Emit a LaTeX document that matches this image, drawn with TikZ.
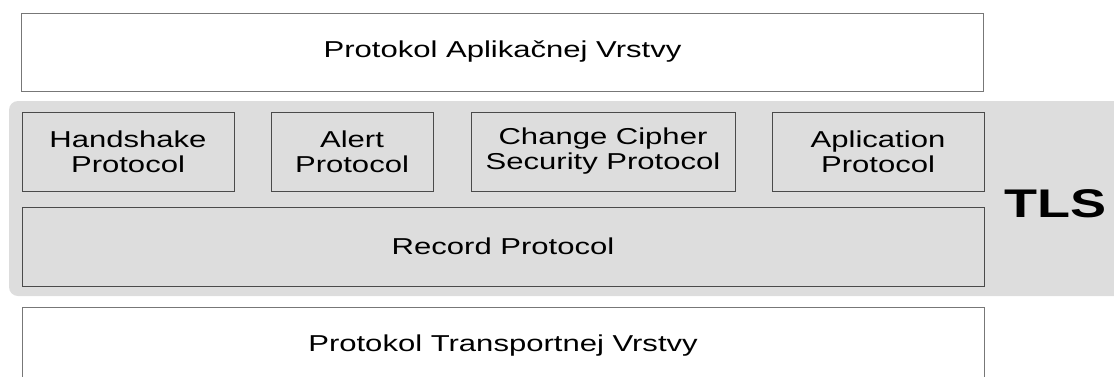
\documentclass[tikz,border=0pt]{standalone}
\usepackage{fontspec}
\setmainfont{Liberation Sans}[FakeStretch=1.35]
\usetikzlibrary{positioning}

\definecolor{tlsgray}{HTML}{DDDDDD}
\definecolor{edgegray}{HTML}{4A4A4A}
\definecolor{outergray}{HTML}{777777}

\tikzset{
  layer/.style={draw=outergray, fill=white, line width=1pt, minimum width=962pt, minimum height=78pt, inner sep=0pt, font=\fontsize{23}{25}\selectfont},
  proto/.style={draw=edgegray, fill=tlsgray, line width=1pt, minimum height=79pt, inner sep=0pt, align=center, font=\fontsize{23}{25}\selectfont}
}

\begin{document}
\begin{tikzpicture}[x=1pt,y=-1pt]
\useasboundingbox (0,0) rectangle (1114,376);

\path
(567,198.5) node[fill=tlsgray, rounded corners=9pt, minimum width=1116pt, minimum height=195pt, inner sep=0pt] (tlsbg) {}
(502.5,52)  node[layer] (app) {Protokol Aplikačnej Vrstvy}

(128,151.5) node[proto, minimum width=212pt] (hs) {Handshake\\Protocol}
(352,151.5) node[proto, minimum width=162pt] (alert) {Alert\\Protocol}
(603,151.5) node[proto, minimum width=264pt] (ccs) {Change Cipher\\Security Protocol}
(878,151.5) node[proto, minimum width=212pt] (aplp) {Aplication\\Protocol}
(503,246.5) node[proto, minimum width=962pt] (rec) {Record Protocol}

(503,346)   node[layer] (trans) {Protokol Transportnej Vrstvy}
(1055,217)  node[anchor=base, inner sep=0pt, font=\fontsize{40}{40}\selectfont\bfseries] (tls) {TLS};
\end{tikzpicture}
\end{document}
